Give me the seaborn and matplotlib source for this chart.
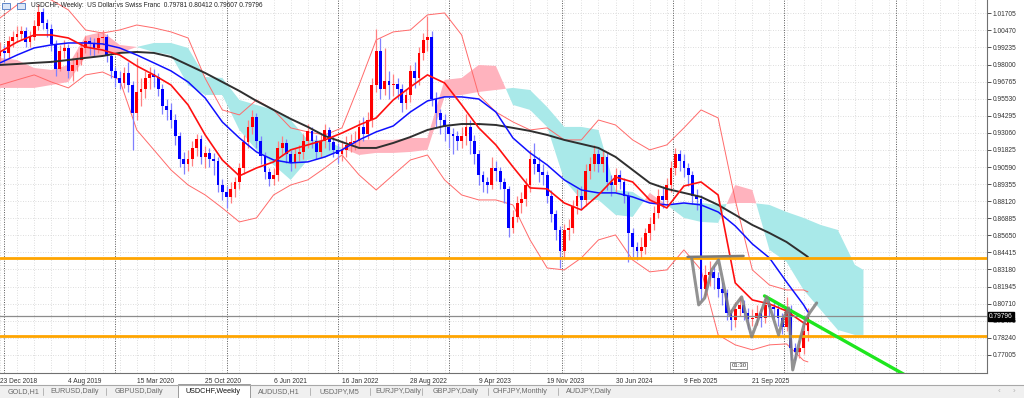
import numpy as np
import pandas as pd
import seaborn as sns
import matplotlib.pyplot as plt
from matplotlib.patches import Rectangle
from matplotlib.lines import Line2D
from matplotlib.ticker import MultipleLocator

# USDCHF weekly chart. x axis = weeks counted from 23 Dec 2018, one candle drawn per 2 weeks
first_open = 0.986
closes = [0.990, 0.988, 0.997, 1.000, 1.002, 1.004, 0.996, 1.000, 1.008, 1.018,
          1.010, 1.006, 0.995, 0.977, 0.990, 0.992, 0.975, 0.980, 0.983, 0.992,
          0.997, 0.995, 0.992, 0.999, 1.000, 0.986, 0.975, 0.970, 0.967, 0.974,
          0.965, 0.945, 0.960, 0.962, 0.970, 0.973, 0.971, 0.962, 0.950, 0.947,
          0.940, 0.928, 0.912, 0.908, 0.912, 0.920, 0.926, 0.913, 0.916, 0.912,
          0.910, 0.893, 0.888, 0.884, 0.890, 0.895, 0.905, 0.924, 0.935, 0.942,
          0.925, 0.914, 0.902, 0.897, 0.900, 0.920, 0.923, 0.915, 0.909, 0.915,
          0.917, 0.925, 0.932, 0.925, 0.917, 0.925, 0.933, 0.924, 0.918, 0.915,
          0.918, 0.922, 0.924, 0.925, 0.935, 0.930, 0.940, 0.965, 0.990, 0.962,
          0.968, 0.965, 0.966, 0.962, 0.952, 0.958, 0.975, 0.970, 0.988, 0.998,
          1.000, 0.955, 0.945, 0.940, 0.935, 0.930, 0.928, 0.925, 0.928, 0.935,
          0.925, 0.915, 0.900, 0.895, 0.893, 0.905, 0.903, 0.895, 0.890, 0.862,
          0.870, 0.880, 0.883, 0.893, 0.912, 0.908, 0.902, 0.900, 0.885, 0.872,
          0.860, 0.845, 0.860, 0.862, 0.878, 0.885, 0.882, 0.903, 0.908, 0.915,
          0.908, 0.913, 0.895, 0.893, 0.900, 0.895, 0.885, 0.858, 0.848, 0.845,
          0.848, 0.858, 0.865, 0.873, 0.885, 0.882, 0.893, 0.905, 0.915, 0.910,
          0.905, 0.900, 0.885, 0.883, 0.818, 0.828, 0.830, 0.826, 0.818, 0.815,
          0.800, 0.795, 0.803, 0.806, 0.800, 0.796, 0.797, 0.800, 0.797, 0.806,
          0.805, 0.803, 0.797, 0.790, 0.803, 0.775, 0.772, 0.775, 0.787, 0.79796]
highs = [0.996, 0.994, 1.001, 1.004, 1.008, 1.008, 1.007, 1.004, 1.012, 1.024,
         1.021, 1.013, 1.009, 0.998, 0.994, 0.998, 0.995, 0.985, 0.989, 0.996,
         1.001, 1.000, 0.999, 1.003, 1.005, 1.002, 0.989, 0.978, 0.975, 0.978,
         0.982, 0.968, 0.985, 0.970, 0.975, 0.978, 0.977, 0.974, 0.966, 0.955,
         0.952, 0.944, 0.931, 0.917, 0.918, 0.925, 0.930, 0.929, 0.921, 0.920,
         0.916, 0.913, 0.897, 0.892, 0.895, 0.899, 0.909, 0.929, 0.940, 0.947,
         0.945, 0.928, 0.917, 0.905, 0.905, 0.925, 0.928, 0.926, 0.918, 0.920,
         0.922, 0.930, 0.937, 0.935, 0.929, 0.930, 0.937, 0.935, 0.928, 0.923,
         0.925, 0.928, 0.930, 0.932, 0.940, 0.942, 0.946, 0.970, 1.006, 0.999,
         0.992, 0.975, 0.973, 0.970, 0.966, 0.962, 0.980, 0.982, 0.993, 1.003,
         1.015, 1.004, 0.960, 0.948, 0.944, 0.938, 0.934, 0.932, 0.935, 0.944,
         0.940, 0.929, 0.918, 0.903, 0.899, 0.913, 0.910, 0.906, 0.898, 0.892,
         0.875, 0.885, 0.888, 0.898, 0.918, 0.923, 0.913, 0.908, 0.903, 0.889,
         0.875, 0.863, 0.865, 0.868, 0.882, 0.890, 0.892, 0.908, 0.913, 0.922,
         0.919, 0.918, 0.916, 0.900, 0.905, 0.904, 0.898, 0.888, 0.862, 0.852,
         0.855, 0.862, 0.870, 0.878, 0.890, 0.892, 0.898, 0.910, 0.920, 0.918,
         0.915, 0.909, 0.903, 0.890, 0.886, 0.835, 0.838, 0.834, 0.830, 0.823,
         0.818, 0.803, 0.808, 0.812, 0.810, 0.804, 0.803, 0.806, 0.804, 0.811,
         0.810, 0.809, 0.807, 0.800, 0.812, 0.806, 0.779, 0.781, 0.792, 0.80412]
lows = [0.982, 0.981, 0.985, 0.993, 0.996, 0.998, 0.993, 0.993, 0.998, 1.005,
        1.006, 1.000, 0.990, 0.972, 0.975, 0.985, 0.970, 0.968, 0.975, 0.980,
        0.988, 0.987, 0.986, 0.988, 0.994, 0.982, 0.970, 0.964, 0.962, 0.963,
        0.960, 0.918, 0.940, 0.950, 0.956, 0.962, 0.964, 0.957, 0.944, 0.940,
        0.934, 0.922, 0.906, 0.901, 0.903, 0.907, 0.914, 0.908, 0.905, 0.906,
        0.900, 0.888, 0.882, 0.876, 0.880, 0.884, 0.890, 0.901, 0.920, 0.930,
        0.920, 0.908, 0.897, 0.892, 0.893, 0.896, 0.914, 0.909, 0.903, 0.905,
        0.910, 0.912, 0.920, 0.920, 0.912, 0.913, 0.920, 0.918, 0.913, 0.909,
        0.910, 0.913, 0.917, 0.918, 0.920, 0.925, 0.926, 0.935, 0.960, 0.955,
        0.958, 0.955, 0.957, 0.955, 0.946, 0.948, 0.953, 0.963, 0.965, 0.983,
        0.990, 0.950, 0.935, 0.930, 0.925, 0.920, 0.915, 0.918, 0.920, 0.922,
        0.915, 0.908, 0.893, 0.888, 0.887, 0.890, 0.896, 0.890, 0.880, 0.855,
        0.858, 0.866, 0.873, 0.878, 0.888, 0.901, 0.895, 0.893, 0.880, 0.866,
        0.853, 0.833, 0.840, 0.853, 0.858, 0.872, 0.875, 0.878, 0.897, 0.903,
        0.902, 0.902, 0.889, 0.885, 0.888, 0.890, 0.880, 0.837, 0.841, 0.839,
        0.840, 0.843, 0.853, 0.860, 0.869, 0.876, 0.878, 0.888, 0.900, 0.903,
        0.899, 0.892, 0.879, 0.875, 0.810, 0.812, 0.820, 0.818, 0.812, 0.806,
        0.795, 0.788, 0.790, 0.798, 0.795, 0.789, 0.791, 0.792, 0.790, 0.793,
        0.798, 0.797, 0.791, 0.785, 0.787, 0.766, 0.766, 0.768, 0.771, 0.780]
bar_weeks = list(range(0, 379, 2))

# indicator lines every 8 weeks (+ last bar)
ma_weeks = list(range(0, 377, 8)) + [378]
ma_red = [0.9891, 0.9963, 1.0014, 1.0014, 0.9992, 0.9927, 0.9905, 0.9869, 0.9790, 0.9725,
          0.9652, 0.9508, 0.9291, 0.9110, 0.8995, 0.9052, 0.9096, 0.9183, 0.9219, 0.9255,
          0.9305, 0.9363, 0.9414, 0.9544, 0.9638, 0.9725, 0.9667, 0.9508, 0.9342, 0.9219,
          0.9060, 0.8908, 0.8901, 0.8799, 0.8749, 0.8857, 0.8987, 0.8951, 0.8821, 0.8763,
          0.8922, 0.8951, 0.8857, 0.8221, 0.8098, 0.8069, 0.8018, 0.7932, 0.7917]
ma_blue = [0.9812, 0.9869, 0.9920, 0.9942, 0.9956, 0.9956, 0.9949, 0.9920, 0.9869, 0.9812,
           0.9754, 0.9674, 0.9558, 0.9385, 0.9269, 0.9168, 0.9110, 0.9089, 0.9096, 0.9132,
           0.9183, 0.9255, 0.9313, 0.9356, 0.9457, 0.9537, 0.9566, 0.9566, 0.9551, 0.9457,
           0.9269, 0.9161, 0.9074, 0.8966, 0.8893, 0.8872, 0.8872, 0.8843, 0.8799, 0.8785,
           0.8799, 0.8785, 0.8734, 0.8633, 0.8503, 0.8402, 0.8228, 0.8062, 0.8011]
ma_black = [0.9797, 0.9804, 0.9812, 0.9819, 0.9833, 0.9848, 0.9862, 0.9884, 0.9891, 0.9884,
            0.9855, 0.9797, 0.9739, 0.9674, 0.9609, 0.9537, 0.9472, 0.9407, 0.9349, 0.9284,
            0.9240, 0.9197, 0.9197, 0.9233, 0.9276, 0.9327, 0.9356, 0.9370, 0.9370, 0.9363,
            0.9342, 0.9320, 0.9291, 0.9255, 0.9226, 0.9197, 0.9132, 0.9038, 0.8944, 0.8901,
            0.8872, 0.8843, 0.8785, 0.8713, 0.8640, 0.8582, 0.8517, 0.8431, 0.8409]
bb_upper = [1.0137, 1.0231, 1.0303, 1.0267, 1.0195, 1.0050, 1.0028, 1.0050, 1.0086, 1.0065,
            1.0036, 0.9992, 0.9700, 0.9472, 0.9436, 0.9544, 0.9472, 0.9342, 0.9313, 0.9291,
            0.9342, 0.9652, 0.9978, 1.0036, 1.0050, 1.0159, 1.0173, 1.0014, 0.9580, 0.9457,
            0.9385, 0.9327, 0.9342, 0.9255, 0.9255, 0.9399, 0.9363, 0.9255, 0.9183, 0.9219,
            0.9342, 0.9472, 0.9414, 0.8821, 0.8315, 0.8206, 0.8170, 0.8170, 0.8156]
bb_lower = [0.9652, 0.9689, 0.9725, 0.9674, 0.9631, 0.9725, 0.9746, 0.9689, 0.9327, 0.9183,
            0.9038, 0.8929, 0.8857, 0.8763, 0.8662, 0.8691, 0.8857, 0.8929, 0.8966, 0.9052,
            0.9146, 0.9002, 0.8893, 0.9002, 0.9110, 0.9146, 0.8966, 0.8857, 0.8821, 0.8821,
            0.8785, 0.8532, 0.8329, 0.8315, 0.8402, 0.8532, 0.8568, 0.8387, 0.8301, 0.8315,
            0.8460, 0.8315, 0.7845, 0.7773, 0.7737, 0.7773, 0.7780, 0.7660, 0.7650]

# ichimoku cloud (shifted 26 weeks forward)
cloud_weeks = list(range(0, 401, 8)) + [404]
span_a = [0.9848, 0.9833, 0.9775, 0.9761, 0.9797, 1.0007, 1.0036, 0.9942, 0.9927, 0.9891,
          0.9869, 0.9652, 0.9580, 0.9580, 0.9327, 0.9183, 0.9074, 0.8966, 0.9110, 0.9125,
          0.9197, 0.9255, 0.9255, 0.9255, 0.9269, 0.9269, 0.9689, 0.9703, 0.9797, 0.9790,
          0.9508, 0.9472, 0.9349, 0.8966, 0.8821, 0.8821, 0.8713, 0.8698, 0.8872, 0.8785,
          0.8691, 0.8662, 0.8655, 0.8929, 0.8893, 0.8460, 0.8373, 0.8170, 0.8026, 0.7881,
          0.7845, 0.7845]
span_b = [0.9631, 0.9631, 0.9631, 0.9652, 0.9674, 0.9855, 0.9869, 0.9884, 0.9927, 0.9956,
          0.9956, 0.9920, 0.9710, 0.9703, 0.9544, 0.9508, 0.9472, 0.9399, 0.9255, 0.9255,
          0.9197, 0.9146, 0.9161, 0.9161, 0.9168, 0.9183, 0.9566, 0.9580, 0.9602, 0.9616,
          0.9631, 0.9616, 0.9493, 0.9349, 0.9349, 0.9327, 0.8893, 0.8879, 0.8799, 0.8785,
          0.8799, 0.8799, 0.8785, 0.8799, 0.8799, 0.8785, 0.8734, 0.8691, 0.8640, 0.8604,
          0.8351, 0.8315]

# drawn objects
orange_levels = [0.8402, 0.7838]
last_price = 0.79796
trend_weeks = [357.7, 425.0]
trend_prices = [0.8127, 0.7542]
zig_weeks = [323.6, 326.9, 329.7, 333.0, 336.2, 338.6, 341.4, 344.2, 347.0, 349.3, 351.7,
             355.0, 358.7, 361.5, 364.3, 366.6, 369.0, 369.9, 370.9, 373.7, 376.5, 378.8, 382.1]
zig_prices = [0.8402, 0.8062, 0.8112, 0.8315, 0.8387, 0.8206, 0.7990, 0.8062, 0.8120, 0.7968,
              0.7831, 0.7968, 0.8120, 0.7982, 0.7845, 0.7968, 0.8040, 0.7809, 0.7592, 0.7773,
              0.7939, 0.8004, 0.8076]
neck_weeks = [321.7, 347.9]
neck_prices = [0.8409, 0.8416]

year_start_weeks = [2, 54, 106, 158, 210, 263, 315, 367, 419]
date_weeks = [0, 32, 64, 96, 128, 160, 192, 224, 256, 288, 320, 352]
date_labels = ['23 Dec 2018', '4 Aug 2019', '15 Mar 2020', '25 Oct 2020', '6 Jun 2021',
               '16 Jan 2022', '28 Aug 2022', '9 Apr 2023', '19 Nov 2023', '30 Jun 2024',
               '9 Feb 2025', '21 Sep 2025']
price_ticks = [1.01705, 1.00470, 0.99235, 0.98000, 0.96765, 0.95530, 0.94295, 0.93060,
               0.91825, 0.90590, 0.89355, 0.88120, 0.86885, 0.85650, 0.84415, 0.83180,
               0.81945, 0.80710, 0.79475, 0.78240, 0.77005]
header = 'USDCHF, Weekly:  US Dollar vs Swiss Franc  0.79781 0.80412 0.79607 0.79796'
tabs = ['GOLD,H1', 'EURUSD,Daily', 'GBPUSD,Daily', 'USDCHF,Weekly', 'AUDUSD,H1',
        'USDJPY,M5', 'EURJPY,Daily', 'GBPJPY,Daily', 'CHFJPY,Monthly', 'AUDJPY,Daily']
active_tab = 'USDCHF,Weekly'

sns.set_style("white")
plt.rcParams['font.family'] = ['Liberation Sans', 'DejaVu Sans']

W, H = 1024, 398
fig = plt.figure(figsize=(W / 100, H / 100), dpi=100)
ax = fig.add_axes([0, 25.4 / H, 987 / W, 372.6 / H])
ax.set_xlim(0, 461.8)
ax.set_ylim(0.75725, 1.02667)

# grid + year separators
dots = (0, (1, 2))
ax.xaxis.set_minor_locator(MultipleLocator(8))
ax.grid(True, which='both', axis='x', color='#d2d2d2', linestyle=dots, linewidth=0.6)
ax.grid(True, which='major', axis='y', color='#d2d2d2', linestyle=dots, linewidth=0.6)
ax.set_axisbelow(True)
for w in year_start_weeks:
    ax.axvline(w, color='#555555', linestyle=(0, (1, 1.5)), linewidth=0.7, zorder=0.8)

# cloud
a = np.array(span_a)
b = np.array(span_b)
ax.fill_between(cloud_weeks, a, b, where=a >= b, interpolate=True,
                color='#ffb3be', linewidth=0, zorder=1)
ax.fill_between(cloud_weeks, a, b, where=a <= b, interpolate=True,
                color='#a9e9e9', linewidth=0, zorder=1)

# candles
df = pd.DataFrame({'week': bar_weeks, 'close': closes, 'high': highs, 'low': lows})
df['open'] = [first_open] + closes[:-1]
df['up'] = df['close'] >= df['open']
for up, col, wick in [(True, '#ff0000', '#ff8080'), (False, '#0000ff', '#8080ff')]:
    d = df[df['up'] == up]
    ax.vlines(d['week'], d['low'], d['high'], color=wick, linewidth=0.9, zorder=3)
    body = (d['close'] - d['open']).abs().clip(lower=0.0007)
    ax.bar(d['week'], body, bottom=d[['open', 'close']].min(axis=1), width=1.3,
           color=col, linewidth=0, zorder=3.2)

# bands and moving averages
for band in (bb_upper, bb_lower):
    sns.lineplot(x=ma_weeks, y=band, ax=ax, color='#ff6a6a', linewidth=0.7, zorder=2)
sns.lineplot(x=ma_weeks, y=ma_black, ax=ax, color='#2f2f2f', linewidth=1.4, zorder=4)
sns.lineplot(x=ma_weeks, y=ma_blue, ax=ax, color='#1010ff', linewidth=1.1, zorder=4)
sns.lineplot(x=ma_weeks, y=ma_red, ax=ax, color='#ff1010', linewidth=1.2, zorder=4)

# horizontal levels, trendline, hand-drawn pattern
for lv in orange_levels:
    ax.axhline(lv, color='#ffa500', linewidth=2.0, zorder=5)
ax.axhline(last_price, color='#8c8c8c', linewidth=0.9, zorder=5)
sns.lineplot(x=trend_weeks, y=trend_prices, ax=ax, color='#1ee61e', linewidth=2.4, zorder=6)
ax.plot(neck_weeks, neck_prices, color='#7a7a7a', linewidth=1.8, zorder=6)
ax.plot(zig_weeks, zig_prices, color='#7f7f7f', linewidth=2.2, alpha=0.85, zorder=6,
        solid_joinstyle='round', solid_capstyle='round')
ax.text(345.7, 0.7621, '01:30', fontsize=4.3, ha='center', va='center', color='#333333',
        zorder=7, bbox=dict(boxstyle='square,pad=0.15', fc='white', ec='#666666', lw=0.5))

# axes
ax.spines[['top', 'left']].set_visible(False)
for s in ('right', 'bottom'):
    ax.spines[s].set_color('#707070')
    ax.spines[s].set_linewidth(0.8)
ax.yaxis.tick_right()
ax.set_yticks(price_ticks)
ax.set_yticklabels([f'{v:.5f}' for v in price_ticks])
ax.tick_params(axis='y', which='major', length=3, width=0.6, pad=1, labelsize=4.8,
               colors='#333333')
ax.set_xticks(date_weeks)
ax.set_xticklabels(date_labels, ha='left')
ax.tick_params(axis='x', which='major', length=3, width=0.6, pad=1, labelsize=4.8,
               colors='#333333')
ax.tick_params(axis='x', which='minor', length=0)
ax.set_xlabel('')
ax.set_ylabel('')
ax.text(1.002, last_price, f'{last_price:.5f}', transform=ax.get_yaxis_transform(),
        ha='left', va='center', fontsize=4.8, color='white', clip_on=False, zorder=10,
        bbox=dict(boxstyle='square,pad=0.15', fc='black', ec='black'))

# header
for x0 in (2, 17):
    fig.patches.append(Rectangle((x0 / W, 1 - 9 / H), 8 / W, 6 / H, transform=fig.transFigure,
                                 fc='#dce7f7', ec='#4a78c2', lw=0.6))
fig.text(31 / W, 1 - 5.5 / H, header, fontsize=4.7, color='#222222', ha='left', va='center')

# tab bar
fig.patches.append(Rectangle((0, 0), 1, 13 / H, transform=fig.transFigure,
                             fc='#f0f0f0', ec='none'))
fig.lines.append(Line2D([0, 1], [13 / H, 13 / H], transform=fig.transFigure,
                        color='#a8a8a8', lw=0.8))
fig.patches.append(Rectangle((178 / W, 0), 72 / W, 14 / H, transform=fig.transFigure,
                             fc='white', ec='#9a9a9a', lw=0.7))
tab_x = [8, 50, 115, 185, 258, 320, 375, 433, 493, 566]
for name, x in zip(tabs, tab_x):
    active = name == active_tab
    fig.text(x / W, 6.5 / H, name, fontsize=5.2, ha='left', va='center',
             color='#111111' if active else '#6a6a6a')
for x in (43, 106, 310, 370, 422, 488, 558):
    fig.lines.append(Line2D([x / W, x / W], [3 / H, 10 / H], transform=fig.transFigure,
                            color='#b5b5b5', lw=0.7))
fig.text(999 / W, 6.5 / H, '\u2039', fontsize=6, color='#b0b0b0', ha='center', va='center')
fig.text(1014 / W, 6.5 / H, '\u203a', fontsize=6, color='#b0b0b0', ha='center', va='center')

fig.savefig('out.png', dpi=100)
plt.close()
